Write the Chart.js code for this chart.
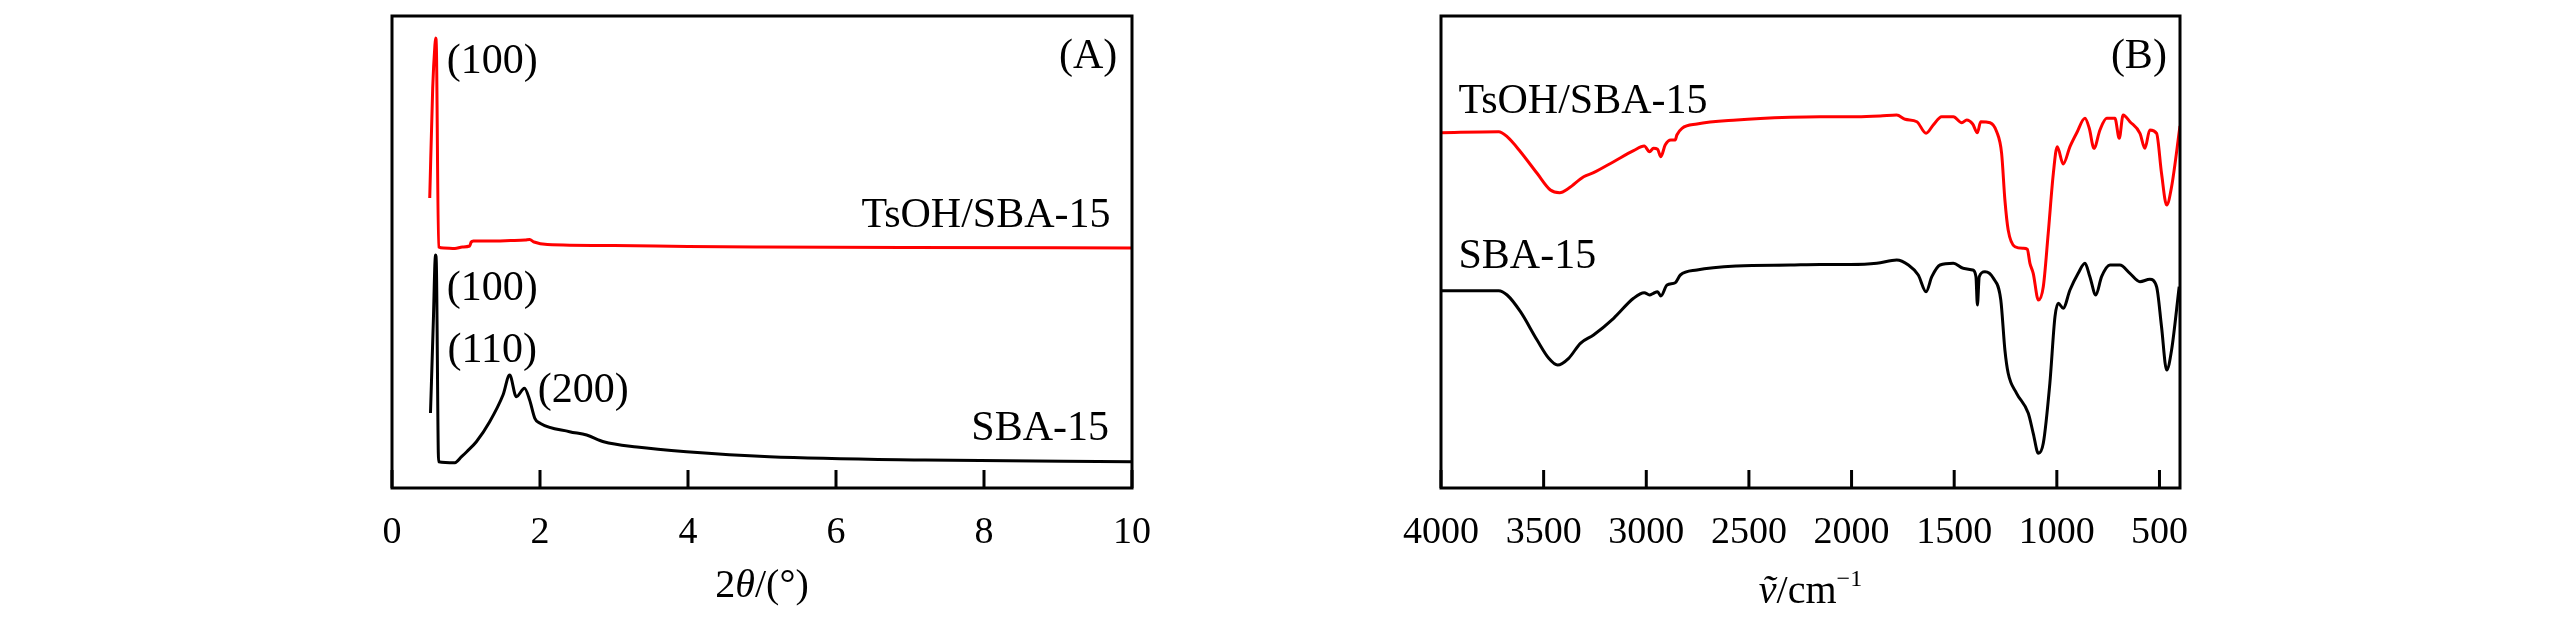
<!DOCTYPE html>
<html lang="en">
<head>
<meta charset="UTF-8">
<title>TsOH/SBA-15 XRD and FT-IR</title>
<script src="https://cdn.jsdelivr.net/npm/chart.js"></script>
<style>
    body {
        margin: 0;
        background: #fff;
        width: 2567px;
        height: 630px;
        overflow: hidden;
        position: relative;
    }
    canvas { position: absolute; top: 0; }
    #xrd { left: 0; }
    #ftir { left: 1290px; }
</style>
</head>
<body>
<canvas id="xrd" width="1290" height="630"></canvas>
<canvas id="ftir" width="1277" height="630"></canvas>
<script>
// (A) small-angle XRD, 2theta in degrees, intensity in arbitrary units
const xrdTicks = [0, 2, 4, 6, 8, 10];
const xrdTsohX = [0.51, 0.55, 0.58, 0.59, 0.60, 0.63, 0.70, 0.85, 0.95, 1.05, 1.07, 1.10, 1.30, 1.60, 1.80, 1.86, 1.92, 2.10, 3.0, 4.0, 5.0, 7.0, 10.0];
const xrdTsohY = [290, 400, 443, 450, 440, 241, 240, 239.5, 241, 242, 246, 247, 247, 247.5, 248, 248.5, 246, 243.5, 242.5, 241.5, 241, 240.5, 240];
const xrdSbaX = [0.52, 0.56, 0.58, 0.59, 0.60, 0.63, 0.85, 0.94, 1.01, 1.14, 1.32, 1.50, 1.59, 1.68, 1.79, 1.86, 1.93, 2.0, 2.4, 2.63, 2.86, 3.31, 3.98, 5.1, 7.2, 10.0];
const xrdSbaY = [75, 170, 225, 233, 222, 26.3, 25.3, 31.3, 36.3, 46.3, 66.3, 93, 113, 91.3, 99.7, 88, 69.7, 64.7, 56.3, 53, 46.3, 41, 36.3, 31.3, 28, 26.3];

// (B) FT-IR, wavenumber in cm-1, transmittance in arbitrary units
const irTicks = [4000, 3500, 3000, 2500, 2000, 1500, 1000, 500];
const irTsohX = [4000, 3719, 3678, 3613, 3532, 3467, 3422, 3378, 3305, 3257, 3159, 3062, 3010, 2984, 2965, 2945, 2929, 2908, 2880, 2859, 2851, 2826, 2753, 2559, 2299, 2153, 1974, 1861, 1780, 1739, 1682, 1637, 1602, 1561, 1504, 1463, 1439, 1410, 1387, 1371, 1325, 1293, 1269, 1253, 1237, 1204, 1163, 1144, 1131, 1115, 1090, 1066, 1042, 1017, 998, 969, 936, 904, 863, 842, 819, 790, 757, 717, 696, 677, 644, 595, 571, 547, 514, 490, 465, 441, 400];
const irTsohY = [355.3, 356.3, 351.3, 336.3, 314.7, 298, 295.3, 299.7, 311.3, 315.3, 326.3, 337.3, 342, 336.3, 339.7, 338.7, 331.3, 343, 348, 348, 353, 359.7, 364, 368, 370.7, 371.3, 371.3, 372, 373, 368.7, 366.3, 354.7, 363, 371.3, 371.3, 365.3, 368, 364, 355.3, 366.3, 365.3, 356.3, 334.7, 288, 258, 241.3, 239.7, 238.7, 224.7, 214.7, 188, 201.3, 254.7, 314.7, 341.3, 324, 341.3, 354.7, 369.7, 359.7, 339.7, 358, 369.7, 369.7, 349.7, 373, 366.3, 354.7, 339.7, 358, 354.7, 314.7, 283, 301.3, 362];
const irSbaX = [4000, 3719, 3678, 3613, 3532, 3475, 3432, 3378, 3321, 3257, 3159, 3062, 3010, 2984, 2965, 2945, 2929, 2899, 2859, 2834, 2753, 2559, 2299, 2153, 2007, 1877, 1780, 1723, 1675, 1637, 1609, 1569, 1504, 1456, 1410, 1394, 1387, 1378, 1350, 1309, 1273, 1253, 1237, 1196, 1139, 1115, 1090, 1066, 1034, 1009, 993, 969, 936, 896, 863, 839, 810, 782, 741, 693, 644, 595, 547, 514, 490, 465, 441, 404];
const irSbaY = [197.3, 197.3, 193, 176.3, 148, 129.7, 123, 129.7, 144.7, 153, 169.7, 189.7, 195.3, 193, 194.7, 196.3, 192, 203, 205.3, 213, 218, 222, 223, 223.5, 223.5, 224.7, 228, 223, 213, 196.3, 211.3, 223, 224.7, 219.7, 218, 211.3, 183, 211.3, 216.3, 209.7, 188, 138, 114.7, 94.7, 74.7, 54.7, 34.7, 44.7, 104.7, 171.3, 184.7, 179.7, 198, 214.7, 224.7, 211.3, 193, 211.3, 223, 223, 214.7, 206.3, 208.7, 201.3, 161.3, 118, 138, 201.3];

const SERIF = "'Liberation Serif', 'Times New Roman', serif";
Chart.defaults.font.family = SERIF;
Chart.defaults.color = '#000';

function pts(xs, ys) {
    return xs.map((x, i) => ({ x: x, y: ys[i] }));
}

// box frame, inward ticks, curve labels and the rich-text axis title
const framePlugin = {
    id: 'frame',
    afterDraw(chart, args, opts) {
        const ctx = chart.ctx;
        const a = chart.chartArea;
        const xs = chart.scales.x;
        const ys = chart.scales.y;
        ctx.save();
        ctx.strokeStyle = '#000';
        ctx.lineWidth = 3;
        ctx.strokeRect(a.left, a.top, a.right - a.left, a.bottom - a.top);
        ctx.beginPath();
        xs.ticks.forEach(t => {
            const px = xs.getPixelForValue(t.value);
            ctx.moveTo(px, a.bottom);
            ctx.lineTo(px, a.bottom - 18);
        });
        ctx.stroke();

        ctx.textBaseline = 'alphabetic';
        ctx.font = '42px ' + SERIF;
        opts.labels.forEach(l => {
            ctx.fillStyle = l.color || '#000';
            ctx.textAlign = l.align || 'left';
            ctx.fillText(l.text, xs.getPixelForValue(l.x), ys.getPixelForValue(l.y));
        });

        // axis title built from segments (italic symbol, superscript)
        ctx.fillStyle = '#000';
        ctx.textAlign = 'left';
        const fontOf = s => (s.italic ? 'italic ' : '') + (s.sup ? '24px ' : '40px ') + SERIF;
        let total = 0;
        opts.title.forEach(s => { ctx.font = fontOf(s); total += ctx.measureText(s.text).width; });
        let x = (a.left + a.right) / 2 - total / 2;
        opts.title.forEach(s => {
            ctx.font = fontOf(s);
            ctx.fillText(s.text, x, opts.titleY - (s.sup ? 17 : 0));
            x += ctx.measureText(s.text).width;
        });
        ctx.restore();
    }
};

function makeChart(id, datasets, xOpts, pad, frame) {
    return new Chart(document.getElementById(id), {
        type: 'line',
        data: { datasets: datasets },
        options: {
            responsive: false,
            animation: false,
            events: [],
            layout: { padding: pad },
            plugins: { legend: { display: false }, tooltip: { enabled: false }, frame: frame },
            elements: { point: { radius: 0 }, line: { borderWidth: 3, cubicInterpolationMode: 'monotone' } },
            scales: {
                x: Object.assign({
                    type: 'linear',
                    grid: { display: false, drawTicks: false },
                    border: { display: false },
                    ticks: {
                        font: { size: 38 }, color: '#000', padding: 22, autoSkip: false, maxRotation: 0,
                        callback: v => String(v)
                    },
                    afterFit: s => { s.height = 142; }
                }, xOpts),
                y: { display: false, min: 0, max: 472 }
            }
        },
        plugins: [framePlugin]
    });
}

makeChart('xrd', [
    { data: pts(xrdTsohX, xrdTsohY), borderColor: '#ff0000' },
    { data: pts(xrdSbaX, xrdSbaY), borderColor: '#000000' }
], {
    min: 0, max: 10,
    afterBuildTicks: s => { s.ticks = xrdTicks.map(v => ({ value: v })); }
}, { left: 392, right: 158, top: 16, bottom: 0 }, {
    labels: [
        { text: '(100)', x: 0.74, y: 414.7 },
        { text: 'TsOH/SBA-15', x: 9.71, y: 261.3, align: 'right' },
        { text: '(100)', x: 0.74, y: 188 },
        { text: '(110)', x: 0.75, y: 126 },
        { text: '(200)', x: 1.97, y: 86.3 },
        { text: 'SBA-15', x: 9.69, y: 48, align: 'right' },
        { text: '(A)', x: 9.8, y: 419.7, align: 'right' }
    ],
    title: [{ text: '2' }, { text: 'θ', italic: true }, { text: '/(°)' }],
    titleY: 597
});

makeChart('ftir', [
    { data: pts(irTsohX, irTsohY), borderColor: '#ff0000' },
    { data: pts(irSbaX, irSbaY), borderColor: '#000000' }
], {
    min: 400, max: 4000, reverse: true,
    afterBuildTicks: s => { s.ticks = irTicks.map(v => ({ value: v })); }
}, { left: 151, right: 387, top: 16, bottom: 0 }, {
    labels: [
        { text: 'TsOH/SBA-15', x: 3915, y: 375 },
        { text: 'SBA-15', x: 3915, y: 220 },
        { text: '(B)', x: 464, y: 419.7, align: 'right' }
    ],
    title: [{ text: 'ṽ', italic: true }, { text: '/cm' }, { text: '−1', sup: true }],
    titleY: 603
});
</script>
</body>
</html>
